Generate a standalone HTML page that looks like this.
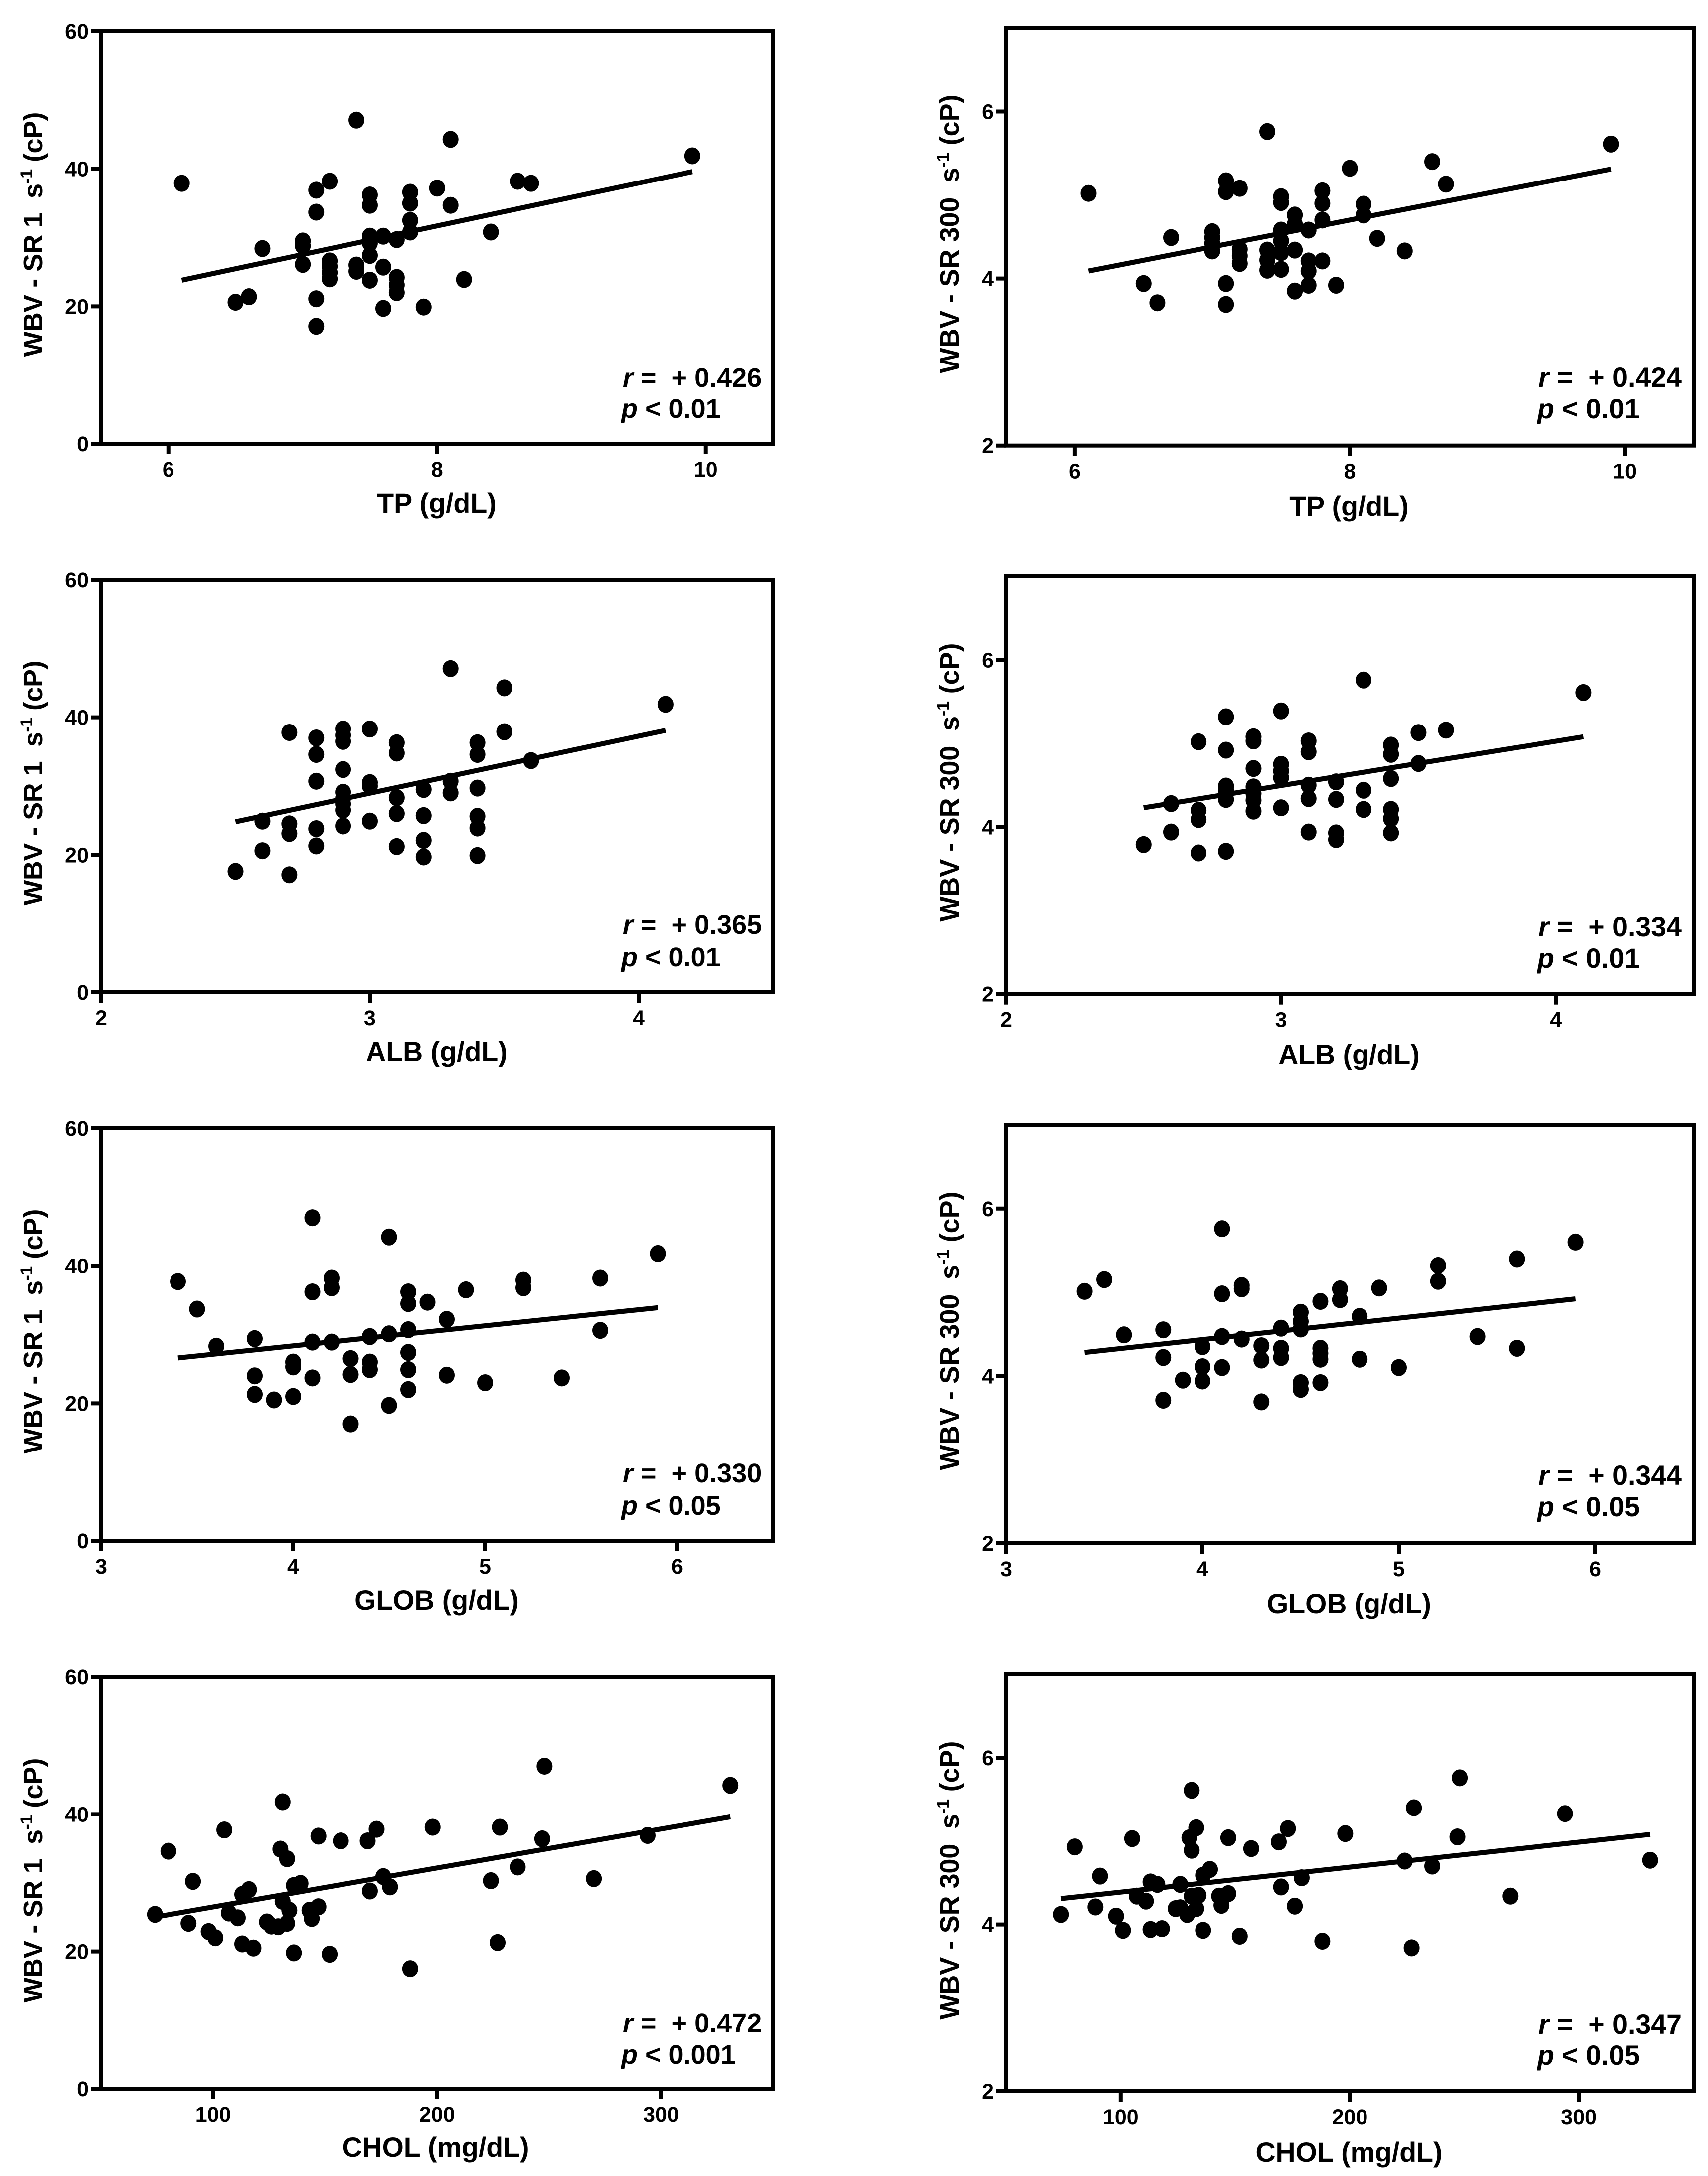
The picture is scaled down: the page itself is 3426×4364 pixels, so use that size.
<!DOCTYPE html>
<html lang="en">
<head>
<meta charset="utf-8">
<title>Whole blood viscosity correlations</title>
<style>
html,body{margin:0;padding:0;background:#fff;}
svg{display:block;}
text{font-family:"Liberation Sans",Arial,sans-serif;font-weight:bold;fill:#000;}
.tick{font-size:43px;}
.axt{font-size:55.5px;text-anchor:middle;}
.yt{font-size:54px;text-anchor:middle;}
.st{font-size:54px;}
#p2 .st,#p4 .st,#p6 .st,#p8 .st{font-size:55.5px;}
</style>
</head>
<body>
<svg id="fig" xmlns="http://www.w3.org/2000/svg" width="3426" height="4364" viewBox="0 0 3426 4364">
<rect width="3426" height="4364" fill="#fff"/>

<g id="p1">
<text class="axt" x="876" y="1028">TP (g/dL)</text>
<text class="yt" transform="translate(85 470) rotate(-90)" textLength="491">WBV - SR 1&#160;&#160;s<tspan font-size="34" dy="-20">-1</tspan><tspan dy="20">&#160;(cP)</tspan></text>
<text class="st" x="1249" y="776"><tspan font-style="italic">r</tspan>&#160;=&#160;&#160;+ 0.426</text>
<text class="st" x="1246" y="838"><tspan font-style="italic">p</tspan> &lt; 0.01</text>
</g>
<g id="p2">
<text class="axt" x="2706" y="1034">TP (g/dL)</text>
<text class="yt" transform="translate(1923 469) rotate(-90)" textLength="559">WBV - SR 300&#160;&#160;s<tspan font-size="34" dy="-20">-1</tspan><tspan dy="20">&#160;(cP)</tspan></text>
<text class="st" x="3086" y="776"><tspan font-style="italic">r</tspan>&#160;=&#160;&#160;+ 0.424</text>
<text class="st" x="3084" y="839"><tspan font-style="italic">p</tspan> &lt; 0.01</text>
</g>
<g id="p3">
<text class="axt" x="876" y="2128">ALB (g/dL)</text>
<text class="yt" transform="translate(85 1570) rotate(-90)" textLength="491">WBV - SR 1&#160;&#160;s<tspan font-size="34" dy="-20">-1</tspan><tspan dy="20">&#160;(cP)</tspan></text>
<text class="st" x="1249" y="1873"><tspan font-style="italic">r</tspan>&#160;=&#160;&#160;+ 0.365</text>
<text class="st" x="1246" y="1938"><tspan font-style="italic">p</tspan> &lt; 0.01</text>
</g>
<g id="p4">
<text class="axt" x="2706" y="2134">ALB (g/dL)</text>
<text class="yt" transform="translate(1923 1569) rotate(-90)" textLength="559">WBV - SR 300&#160;&#160;s<tspan font-size="34" dy="-20">-1</tspan><tspan dy="20">&#160;(cP)</tspan></text>
<text class="st" x="3086" y="1878"><tspan font-style="italic">r</tspan>&#160;=&#160;&#160;+ 0.334</text>
<text class="st" x="3084" y="1941"><tspan font-style="italic">p</tspan> &lt; 0.01</text>
</g>
<g id="p5">
<text class="axt" x="876" y="3228">GLOB (g/dL)</text>
<text class="yt" transform="translate(85 2670) rotate(-90)" textLength="491">WBV - SR 1&#160;&#160;s<tspan font-size="34" dy="-20">-1</tspan><tspan dy="20">&#160;(cP)</tspan></text>
<text class="st" x="1249" y="2973"><tspan font-style="italic">r</tspan>&#160;=&#160;&#160;+ 0.330</text>
<text class="st" x="1246" y="3038"><tspan font-style="italic">p</tspan> &lt; 0.05</text>
</g>
<g id="p6">
<text class="axt" x="2706" y="3235">GLOB (g/dL)</text>
<text class="yt" transform="translate(1923 2669) rotate(-90)" textLength="559">WBV - SR 300&#160;&#160;s<tspan font-size="34" dy="-20">-1</tspan><tspan dy="20">&#160;(cP)</tspan></text>
<text class="st" x="3086" y="2978"><tspan font-style="italic">r</tspan>&#160;=&#160;&#160;+ 0.344</text>
<text class="st" x="3084" y="3041"><tspan font-style="italic">p</tspan> &lt; 0.05</text>
</g>
<g id="p7">
<text class="axt" x="874" y="4325">CHOL (mg/dL)</text>
<text class="yt" transform="translate(85 3771) rotate(-90)" textLength="491">WBV - SR 1&#160;&#160;s<tspan font-size="34" dy="-20">-1</tspan><tspan dy="20">&#160;(cP)</tspan></text>
<text class="st" x="1249" y="4076"><tspan font-style="italic">r</tspan>&#160;=&#160;&#160;+ 0.472</text>
<text class="st" x="1246" y="4139"><tspan font-style="italic">p</tspan> &lt; 0.001</text>
</g>
<g id="p8">
<text class="axt" x="2706" y="4335">CHOL (mg/dL)</text>
<text class="yt" transform="translate(1923 3771) rotate(-90)" textLength="559">WBV - SR 300&#160;&#160;s<tspan font-size="34" dy="-20">-1</tspan><tspan dy="20">&#160;(cP)</tspan></text>
<text class="st" x="3086" y="4079"><tspan font-style="italic">r</tspan>&#160;=&#160;&#160;+ 0.347</text>
<text class="st" x="3084" y="4141"><tspan font-style="italic">p</tspan> &lt; 0.05</text>
</g>
</svg>
<script>
var yTicksLow = [0, 20, 40, 60];
var yTicksHigh = [2, 4, 6];
var tpTicks = [6, 8, 10];
var albTicks = [2, 3, 4];
var globTicks = [3, 4, 5, 6];
var cholTicks = [100, 200, 300];

var tpX1 = [6.1,7.4,8.1,9.9,7.2,7.1,7.1,7.5,7.5,7.8,7.8,8.0,8.1,8.6,8.7,7.8,7.8,8.4,7.5,7.6,7.7,7.5,7.5,6.7,7.0,7.0,7.0,7.2,7.2,7.2,7.2,7.4,7.4,7.5,7.6,7.7,7.7,7.7,8.2,6.5,6.6,7.1,7.6,7.9,7.1];
var tpY1 = [37.9,47.1,44.3,41.9,38.2,36.9,33.7,36.2,34.7,36.6,35.0,37.2,34.7,38.2,37.9,32.5,30.8,30.8,30.2,30.2,29.7,29.2,27.4,28.4,29.5,28.8,26.1,26.6,25.8,24.9,24.0,26.0,25.1,23.8,25.7,24.2,23.1,22.0,23.9,20.6,21.4,21.1,19.7,19.9,17.1];
var tpLineX1 = [6.1, 9.9];
var tpLineY1 = [23.8, 39.6];

var tpX2 = [6.1,7.4,9.9,8.6,8.0,8.7,7.1,7.1,7.2,7.5,7.5,7.8,7.8,8.1,8.1,7.6,7.6,7.8,7.7,7.5,7.5,7.5,7.6,6.7,7.0,7.0,7.0,7.0,8.2,8.4,7.2,7.2,7.2,7.4,7.4,7.4,7.5,7.7,7.7,7.8,6.5,6.6,7.1,7.1,7.7,7.9,7.6];
var tpY2 = [5.02,5.76,5.61,5.40,5.32,5.13,5.17,5.04,5.08,4.98,4.91,5.05,4.90,4.89,4.76,4.76,4.65,4.70,4.58,4.58,4.45,4.31,4.34,4.49,4.56,4.49,4.42,4.33,4.48,4.33,4.35,4.27,4.18,4.34,4.22,4.10,4.11,4.21,4.09,4.21,3.94,3.71,3.94,3.69,3.92,3.92,3.85];
var tpLineX2 = [6.1, 9.9];
var tpLineY2 = [4.09, 5.31];

var albX1 = [2.5,2.6,2.6,2.7,2.7,2.7,2.7,2.8,2.8,2.8,2.8,2.8,2.9,2.9,2.9,2.9,2.9,2.9,2.9,2.9,2.9,3.0,3.0,3.0,3.0,3.1,3.1,3.1,3.1,3.1,3.2,3.2,3.2,3.2,3.3,3.3,3.3,3.4,3.4,3.4,3.4,3.4,3.4,3.5,3.5,3.6,4.1];
var albY1 = [17.6,24.9,20.6,37.8,24.5,23.1,17.1,37.0,34.6,30.7,23.8,21.3,38.3,37.4,36.5,32.4,29.1,28.2,27.4,26.5,24.2,38.3,30.5,30.0,24.9,36.3,34.8,28.3,26.0,21.2,29.5,25.7,22.1,19.7,30.7,29.0,47.1,36.3,34.6,29.7,25.6,23.9,19.9,44.3,37.9,33.7,41.9];
var albLineX1 = [2.5, 4.1];
var albLineY1 = [24.8, 38.1];

var albX2 = [2.5,2.6,2.6,2.7,2.7,2.7,2.7,2.8,2.8,2.8,2.8,2.8,2.8,2.9,2.9,2.9,2.9,2.9,2.9,2.9,3.0,3.0,3.0,3.0,3.0,3.1,3.1,3.1,3.1,3.1,3.2,3.2,3.2,3.2,3.3,3.3,3.3,3.4,3.4,3.4,3.4,3.4,3.4,3.5,3.5,3.6,4.1];
var albY2 = [3.79,4.28,3.94,5.02,4.20,4.09,3.69,5.32,4.92,4.49,4.44,4.33,3.71,5.08,5.03,4.70,4.48,4.40,4.32,4.19,5.39,4.75,4.67,4.59,4.23,5.03,4.90,4.50,4.34,3.94,4.54,4.33,3.93,3.85,5.76,4.44,4.21,4.98,4.87,4.58,4.21,4.10,3.93,5.13,4.76,5.16,5.61];
var albLineX2 = [2.5, 4.1];
var albLineY2 = [4.23, 5.08];

var globX1 = [3.4,3.5,3.6,3.8,3.8,3.8,3.9,4.0,4.0,4.0,4.1,4.1,4.1,4.1,4.2,4.2,4.2,4.3,4.3,4.3,4.4,4.4,4.4,4.5,4.5,4.5,4.6,4.6,4.6,4.6,4.6,4.6,4.7,4.8,4.8,4.9,5.0,5.2,5.2,5.4,5.6,5.6,5.9];
var globY1 = [37.7,33.7,28.3,29.4,24.0,21.3,20.5,26.0,25.3,21.0,47.0,36.2,28.9,23.7,38.2,36.8,28.9,26.5,24.2,17.0,29.7,26.0,24.9,44.2,30.1,19.7,36.2,34.5,30.7,27.4,24.9,22.0,34.7,32.2,24.1,36.5,23.0,37.9,36.8,23.7,38.2,30.6,41.8];
var globLineX1 = [3.4, 5.9];
var globLineY1 = [26.6, 33.9];

var globX2 = [3.4,3.5,3.6,3.8,3.8,3.8,3.9,4.0,4.0,4.0,4.1,4.1,4.1,4.1,4.2,4.2,4.2,4.3,4.3,4.3,4.4,4.4,4.4,4.5,4.5,4.5,4.5,4.5,4.6,4.6,4.6,4.6,4.6,4.7,4.7,4.8,4.8,4.9,5.0,5.2,5.2,5.4,5.6,5.6,5.9];
var globY2 = [5.01,5.15,4.49,4.55,4.22,3.71,3.95,4.35,4.11,3.94,5.76,4.98,4.47,4.10,5.08,5.04,4.44,4.36,4.19,3.69,4.57,4.33,4.22,4.76,4.65,4.56,3.92,3.84,4.89,4.33,4.27,4.20,3.92,5.04,4.91,4.71,4.20,5.05,4.10,5.32,5.13,4.47,5.40,4.33,5.60];
var globLineX2 = [3.4, 5.9];
var globLineY2 = [4.28, 4.92];

var cholX1 = [74,80,89,91,98,101,105,107,111,113,113,116,118,124,126,129,130,131,131,133,133,134,136,136,139,143,144,147,147,152,157,169,170,173,176,179,188,198,224,227,228,236,247,248,270,294,331];
var cholY1 = [25.4,34.6,24.1,30.2,22.9,22.0,37.7,25.6,24.9,21.1,28.3,29.0,20.5,24.3,23.7,23.6,34.9,41.8,27.3,33.5,24.1,26.0,19.8,29.6,29.9,26.0,24.8,26.5,36.8,19.6,36.1,36.1,28.8,37.8,30.9,29.4,17.5,38.1,30.3,21.3,38.1,32.3,36.4,47.0,30.6,36.9,44.2];
var cholLineX1 = [74, 331];
var cholLineY1 = [25.0, 39.6];

var cholX2 = [74,80,89,91,98,101,105,107,111,113,113,116,118,124,126,126,129,130,131,131,131,133,133,134,136,136,139,143,144,147,147,152,157,169,170,173,176,179,188,198,224,227,228,236,247,248,270,294,331];
var cholY2 = [4.12,4.93,4.21,4.58,4.10,3.93,5.03,4.34,4.28,4.51,3.94,4.48,3.95,4.19,4.48,4.20,4.12,5.04,5.61,4.89,4.34,5.16,4.19,4.35,4.59,3.93,4.66,4.34,4.23,4.37,5.04,3.86,4.91,4.99,4.45,5.15,4.22,4.56,3.80,5.09,4.76,3.72,5.40,4.70,5.05,5.76,4.34,5.33,4.77];
var cholLineX2 = [74, 331];
var cholLineY2 = [4.31, 5.08];

var NS = 'http://www.w3.org/2000/svg';

function scale(d0, d1, r0, r1) {
  return function (v) { return r0 + (v - d0) / (d1 - d0) * (r1 - r0); };
}
function svgEl(tag, parent, attrs) {
  var el = document.createElementNS(NS, tag);
  for (var k in attrs) { el.setAttribute(k, attrs[k]); }
  parent.appendChild(el);
  return el;
}

function drawPanel(id, box, xDomain, yDomain, xTicks, yTicks, xs, ys, lineX, lineY) {
  var g = document.getElementById(id);
  var sx = scale(xDomain[0], xDomain[1], box.l, box.r);
  var sy = scale(yDomain[0], yDomain[1], box.b, box.t);
  var i, el, p;

  var frame = svgEl('rect', g, { x: box.l, y: box.t, width: box.r - box.l, height: box.b - box.t, fill: 'none', stroke: '#000', 'stroke-width': 8 });
  
  

  for (i = 0; i < yTicks.length; i++) {
    p = sy(yTicks[i]);
    el = svgEl('line', g, { x1: box.l - 21, x2: box.l, y1: p, y2: p, stroke: '#000', 'stroke-width': 8 });
    
    
    el = svgEl('text', g, { x: box.l - 25, y: p + 15, 'class': 'tick', 'text-anchor': 'end' });
    
    
    el.textContent = yTicks[i];
  }
  for (i = 0; i < xTicks.length; i++) {
    p = sx(xTicks[i]);
    el = svgEl('line', g, { x1: p, x2: p, y1: box.b, y2: box.b + 21, stroke: '#000', 'stroke-width': 8 });
    
    
    el = svgEl('text', g, { x: p, y: box.b + 66, 'class': 'tick', 'text-anchor': 'middle' });
    
    
    el.textContent = xTicks[i];
  }
  for (i = 0; i < xs.length; i++) {
    el = svgEl('ellipse', g, { cx: sx(xs[i]), cy: sy(ys[i]), rx: 16, ry: 17, fill: '#000' });
    
    
  }
  el = svgEl('line', g, { x1: sx(lineX[0]), y1: sy(lineY[0]), x2: sx(lineX[1]), y2: sy(lineY[1]), stroke: '#000', 'stroke-width': 10 });
  
  
}

var tpDomain = [5.5, 10.5];
var albDomain = [2, 4.5];
var globDomain = [3, 6.5];
var cholDomain = [50, 350];
var lowDomain = [0, 60];
var highDomain = [2, 7];

drawPanel('p1', { l: 203, r: 1550.5, t: 63, b: 890 }, tpDomain, lowDomain, tpTicks, yTicksLow, tpX1, tpY1, tpLineX1, tpLineY1);
drawPanel('p2', { l: 2018, r: 3397, t: 56, b: 893.7 }, tpDomain, highDomain, tpTicks, yTicksHigh, tpX2, tpY2, tpLineX2, tpLineY2);
drawPanel('p3', { l: 203, r: 1550.5, t: 1163, b: 1990 }, albDomain, lowDomain, albTicks, yTicksLow, albX1, albY1, albLineX1, albLineY1);
drawPanel('p4', { l: 2018, r: 3397, t: 1156, b: 1993.7 }, albDomain, highDomain, albTicks, yTicksHigh, albX2, albY2, albLineX2, albLineY2);
drawPanel('p5', { l: 203, r: 1550.5, t: 2263, b: 3090 }, globDomain, lowDomain, globTicks, yTicksLow, globX1, globY1, globLineX1, globLineY1);
drawPanel('p6', { l: 2018, r: 3397, t: 2256, b: 3095 }, globDomain, highDomain, globTicks, yTicksHigh, globX2, globY2, globLineX2, globLineY2);
drawPanel('p7', { l: 203, r: 1550.5, t: 3363, b: 4189 }, cholDomain, lowDomain, cholTicks, yTicksLow, cholX1, cholY1, cholLineX1, cholLineY1);
drawPanel('p8', { l: 2018, r: 3397, t: 3358, b: 4194 }, cholDomain, highDomain, cholTicks, yTicksHigh, cholX2, cholY2, cholLineX2, cholLineY2);
</script>
</body>
</html>
